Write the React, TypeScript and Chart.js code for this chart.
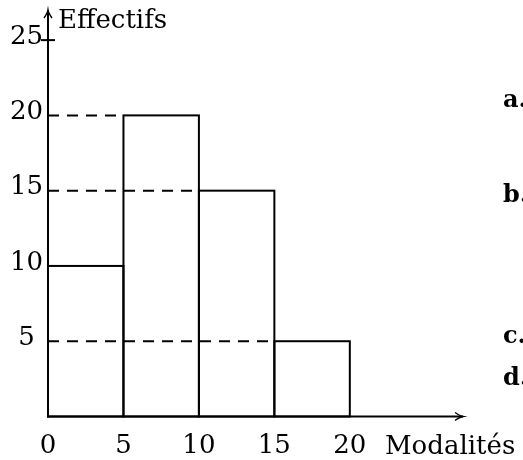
import { useEffect, useRef } from "react";
import { Chart, registerables } from "chart.js";

Chart.register(...registerables);

// ---- data ----
const binEdges = [0, 5, 10, 15, 20];
const counts = [10, 20, 15, 5];
const xTickValues = [0, 5, 10, 15, 20];
const yTickValues = [5, 10, 15, 20, 25];
const xAxisTitle = "Modalités";
const yAxisTitle = "Effectifs";
const sideLabels = ["a.", "b.", "c.", "d."];
const xMax = 27.5;
const yMax = 27;

const FONT = "'DejaVu Serif', serif";

const barData = counts.map((c, i) => ({ x: (binEdges[i] + binEdges[i + 1]) / 2, y: c }));
const dashData = counts
  .map((c, i) => ({ c, i }))
  .filter(({ i }) => i > 0)
  .map(({ c, i }) => [
    { x: binEdges[0], y: c },
    { x: binEdges[i], y: c },
  ]);

const decorPlugin = {
  id: "decor",
  afterDatasetsDraw(chart: any) {
    const ctx = chart.ctx;
    const meta = chart.getDatasetMeta(0);
    ctx.save();
    ctx.strokeStyle = "#000";
    ctx.lineWidth = 2;
    meta.data.forEach((el: any) => {
      const { x, y, base, width } = el.getProps(["x", "y", "base", "width"], true);
      ctx.strokeRect(x - width / 2, y, width, base - y);
    });
    ctx.restore();
  },
  afterDraw(chart: any) {
    const ctx = chart.ctx;
    const xs = chart.scales.x;
    const ys = chart.scales.y;
    const x0 = xs.getPixelForValue(0);
    const y0 = ys.getPixelForValue(0);
    ctx.save();
    ctx.strokeStyle = "#000";
    ctx.fillStyle = "#000";
    ctx.lineWidth = 2;
    ctx.lineCap = "butt";
    // x axis
    ctx.beginPath();
    ctx.moveTo(x0 - 1, y0);
    ctx.lineTo(xs.right, y0);
    ctx.stroke();
    // y axis
    ctx.beginPath();
    ctx.moveTo(x0, y0 + 1);
    ctx.lineTo(x0, ys.top);
    ctx.stroke();
    // arrow heads
    ctx.lineWidth = 1.5;
    ctx.beginPath();
    ctx.moveTo(xs.right - 8, y0 - 4);
    ctx.quadraticCurveTo(xs.right - 3, y0 - 0.5, xs.right, y0);
    ctx.quadraticCurveTo(xs.right - 3, y0 + 0.5, xs.right - 8, y0 + 4);
    ctx.stroke();
    ctx.beginPath();
    ctx.moveTo(x0 - 4, ys.top + 8);
    ctx.quadraticCurveTo(x0 - 0.5, ys.top + 3, x0, ys.top);
    ctx.quadraticCurveTo(x0 + 0.5, ys.top + 3, x0 + 4, ys.top + 8);
    ctx.stroke();
    // tick at top value
    const yt = ys.getPixelForValue(yTickValues[yTickValues.length - 1]);
    ctx.lineWidth = 2;
    ctx.beginPath();
    ctx.moveTo(x0 - 7, yt);
    ctx.lineTo(x0 + 7, yt);
    ctx.stroke();
    // axis titles
    ctx.font = `26px ${FONT}`;
    ctx.textBaseline = "alphabetic";
    ctx.textAlign = "left";
    ctx.fillText(yAxisTitle, x0 + 10, 28);
    ctx.fillText(xAxisTitle, 385, 454);
    // side labels
    ctx.font = `bold 24px ${FONT}`;
    const ly = [107, 202, 343, 385];
    sideLabels.forEach((t, i) => ctx.fillText(t, 503, ly[i]));
    ctx.restore();
  },
};

export default function App() {
  const ref = useRef<HTMLCanvasElement | null>(null);
  useEffect(() => {
    if (!ref.current) return;
    const chart = new Chart(ref.current, {
      type: "bar",
      data: {
        datasets: [
          {
            type: "bar",
            data: barData as any,
            backgroundColor: "rgba(0,0,0,0)",
            borderWidth: 0,
            barPercentage: 1,
            categoryPercentage: 1,
          } as any,
          ...dashData.map(
            (d) =>
              ({
                type: "line",
                data: d,
                borderColor: "#000",
                borderWidth: 2,
                borderDash: [11, 8],
                pointRadius: 0,
                fill: false,
              }) as any
          ),
        ],
      },
      options: {
        responsive: false,
        animation: false,
        events: [],
        layout: { padding: { top: 10, right: 60, left: 0, bottom: 0 } },
        plugins: { legend: { display: false }, tooltip: { enabled: false } },
        scales: {
          x: {
            type: "linear",
            min: 0,
            max: xMax,
            offset: false,
            grid: { display: false, drawTicks: false },
            border: { display: false },
            afterBuildTicks: (s: any) => {
              s.ticks = xTickValues.map((v) => ({ value: v }));
            },
            afterFit: (s: any) => {
              s.height = 43.5;
              s.paddingLeft = 0;
              s.paddingRight = 0;
            },
            ticks: {
              color: "#000",
              font: { family: FONT, size: 26 },
              padding: 14,
              maxRotation: 0,
              autoSkip: false,
            },
          },
          y: {
            type: "linear",
            min: 0,
            max: yMax,
            grid: { display: false, drawTicks: false },
            border: { display: false },
            afterBuildTicks: (s: any) => {
              s.ticks = yTickValues.map((v) => ({ value: v }));
            },
            afterFit: (s: any) => {
              s.width = 48;
              s.paddingTop = 0;
              s.paddingBottom = 0;
            },
            ticks: {
              color: "#000",
              font: { family: FONT, size: 26 },
              padding: 5,
              crossAlign: "center",
              labelOffset: -3,
              autoSkip: false,
            },
          },
        },
      },
      plugins: [decorPlugin],
    } as any);
    return () => chart.destroy();
  }, []);
  return (
    <div style={{ position: "absolute", left: 0, top: 0, width: 523, height: 460, background: "#fff" }}>
      <canvas ref={ref} width={523} height={460} style={{ width: 523, height: 460 }} />
    </div>
  );
}
